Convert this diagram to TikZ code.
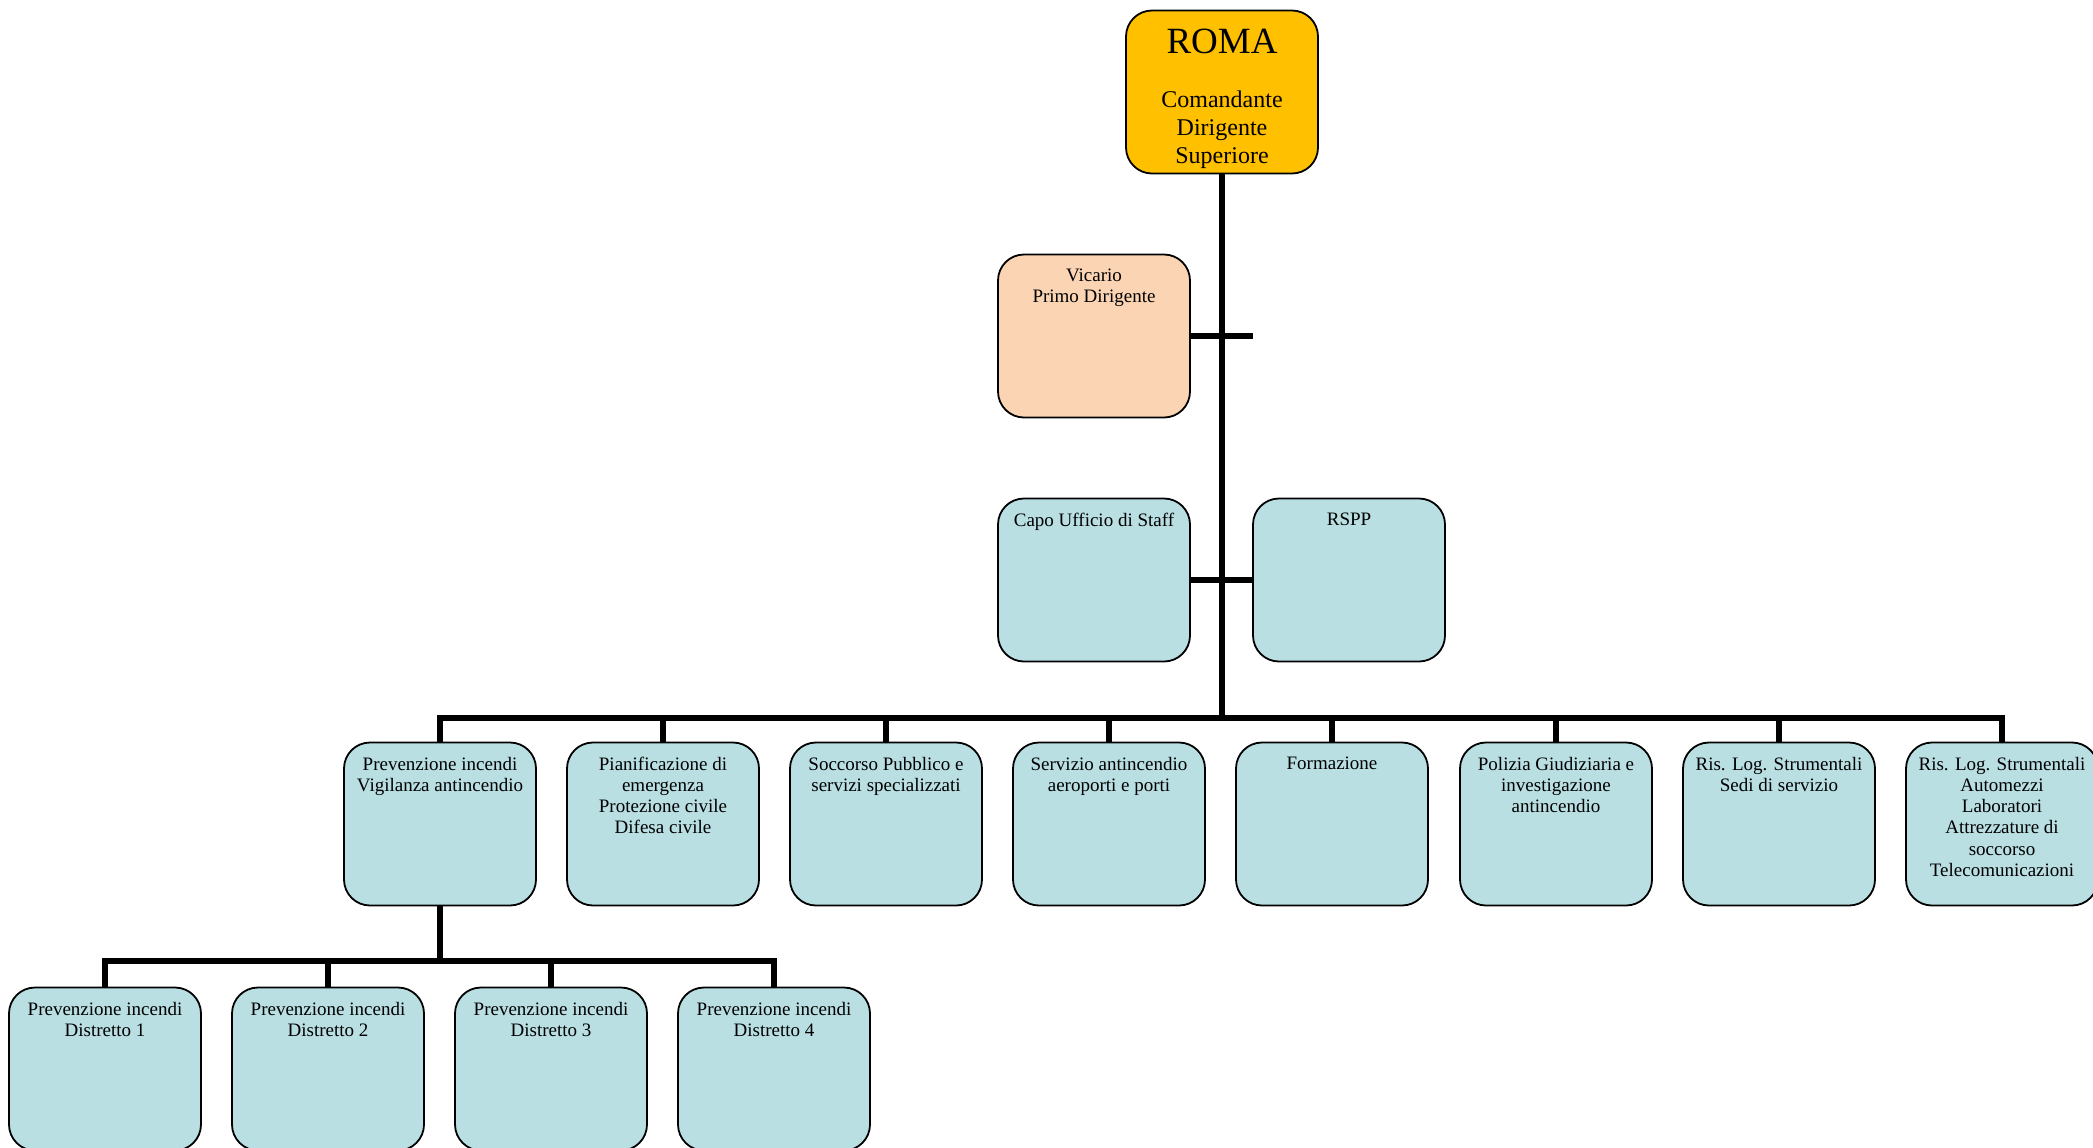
\documentclass[tikz,border=0pt]{standalone}
\usepackage{fontspec}
\setmainfont{Liberation Serif}
\usepackage{xcolor}
\usepackage{tikz}

\definecolor{romagold}{HTML}{FFC000}
\definecolor{vicpeach}{HTML}{FBD4B4}
\definecolor{officeblue}{HTML}{B9DFE3}

\begin{document}
\begin{tikzpicture}[x=0.5pt,y=-0.5pt]
\tikzstyle{unit} = [draw, line width=0.9pt, rounded corners=13pt, fill=officeblue, minimum width=96pt, minimum height=81.5pt, inner sep=0pt]
\tikzstyle{txt} = [anchor=north, align=center, inner sep=0pt, yshift=-7.5pt, font=\fontsize{9.5}{10.6}\selectfont]
\tikzstyle{wire} = [line width=3pt]
\useasboundingbox (0,0) rectangle (2093,1147);

  % top of the chart
  \node (roma) [unit, fill=romagold, label={[txt, yshift=-1.8pt, font=\fontsize{12}{14}\selectfont]north:{\fontsize{18.5}{20}\selectfont ROMA}\\[13pt]Comandante\\Dirigente\\Superiore}] at (1222,92) {};
  \node (vicario) [unit, fill=vicpeach, label={[txt]north:Vicario\\Primo Dirigente}] at (1094,336) {};
  \node (capo) [unit, label={[txt]north:Capo Ufficio di Staff}] at (1094,580) {};
  \node (rspp) [unit, label={[txt]north:RSPP}] at (1349,580) {};

  % second level
  \node (pv) [unit, label={[txt]north:Prevenzione incendi\\Vigilanza antincendio}] at (440,824) {};
  \node (pe) [unit, label={[txt]north:Pianificazione di\\emergenza\\Protezione civile\\Difesa civile}] at (663,824) {};
  \node (sp) [unit, label={[txt]north:Soccorso Pubblico e\\servizi specializzati}] at (886,824) {};
  \node (sa) [unit, label={[txt]north:Servizio antincendio\\aeroporti e porti}] at (1109,824) {};
  \node (fo) [unit, label={[txt]north:Formazione}] at (1332,824) {};
  \node (pg) [unit, label={[txt]north:Polizia Giudiziaria e\\investigazione\\antincendio}] at (1556,824) {};
  \node (rs) [unit, label={[txt]north:Ris. Log. Strumentali\\Sedi di servizio}] at (1779,824) {};
  \node (ra) [unit, label={[txt]north:Ris. Log. Strumentali\\Automezzi\\Laboratori\\Attrezzature di\\soccorso\\Telecomunicazioni}] at (2002,824) {};

  % districts
  \node (d1) [unit, label={[txt]north:Prevenzione incendi\\Distretto 1}] at (105,1069) {};
  \node (d2) [unit, label={[txt]north:Prevenzione incendi\\Distretto 2}] at (328,1069) {};
  \node (d3) [unit, label={[txt]north:Prevenzione incendi\\Distretto 3}] at (551,1069) {};
  \node (d4) [unit, label={[txt]north:Prevenzione incendi\\Distretto 4}] at (774,1069) {};

  \coordinate (bus) at (1222,718);
  \coordinate (vicstub) at (1253,336);
  \coordinate (subbus) at (440,961);

  \draw [wire] (roma) -- (bus);
  \draw [wire] (vicario.east) -- (vicstub);
  \draw [wire] (capo.east) -- (rspp.west);

  \draw [wire] (pv.north) |- (bus) -| (ra.north);
  \draw [wire] (pe.north) -- (pe.north |- bus);
  \draw [wire] (sp.north) -- (sp.north |- bus);
  \draw [wire] (sa.north) -- (sa.north |- bus);
  \draw [wire] (fo.north) -- (fo.north |- bus);
  \draw [wire] (pg.north) -- (pg.north |- bus);
  \draw [wire] (rs.north) -- (rs.north |- bus);

  \draw [wire] (pv) -- (subbus);
  \draw [wire] (d1.north) |- (subbus) -| (d4.north);
  \draw [wire] (d2.north) -- (d2.north |- subbus);
  \draw [wire] (d3.north) -- (d3.north |- subbus);
\end{tikzpicture}
\end{document}
